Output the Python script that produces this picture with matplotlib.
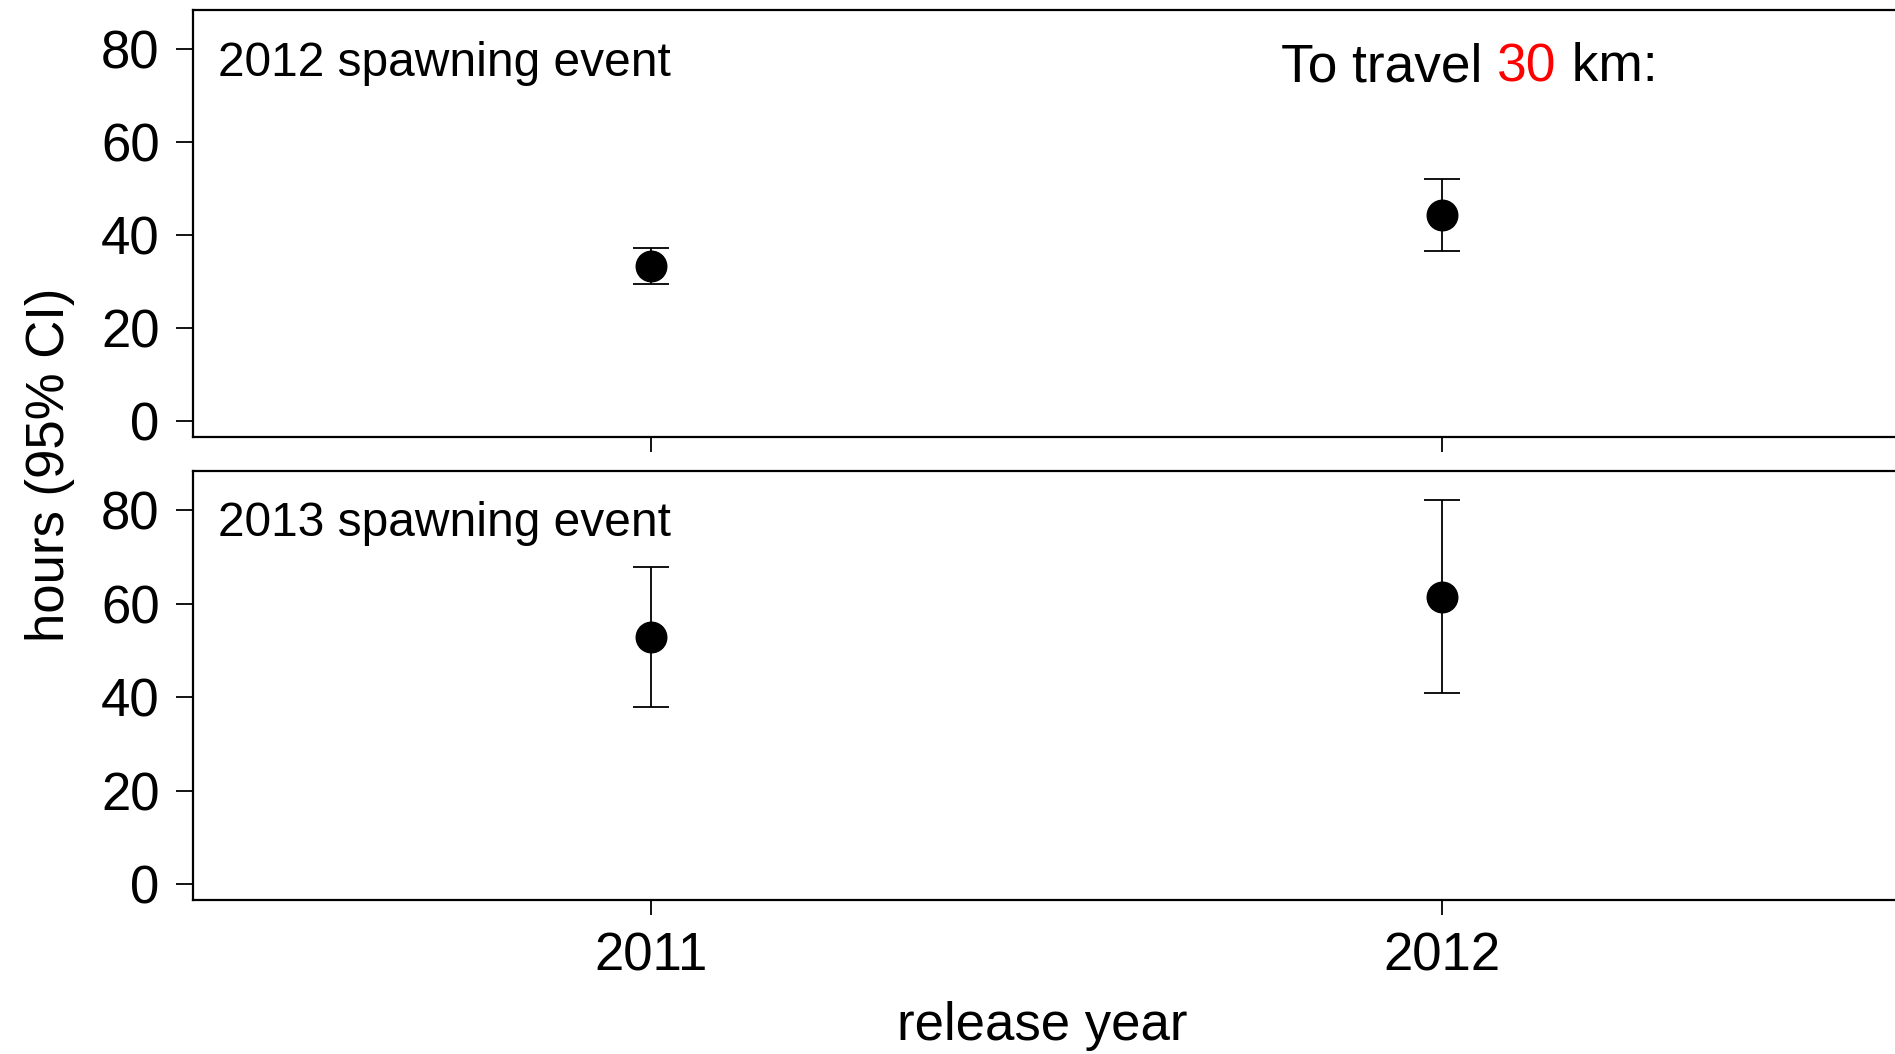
import matplotlib
matplotlib.use("Agg")
import matplotlib.pyplot as plt

plt.rcParams['font.family'] = ['Liberation Sans', 'DejaVu Sans']

release_years = [2011, 2012]
spawn_2012_mean = [33.3, 44.4]
spawn_2012_lo = [29.4, 36.6]
spawn_2012_hi = [37.2, 52.1]
spawn_2013_mean = [52.9, 61.4]
spawn_2013_lo = [37.9, 40.8]
spawn_2013_hi = [67.9, 82.1]
y_ticks = [0, 20, 40, 60, 80]
panel_labels = ["2012 spawning event", "2013 spawning event"]

W, H = 1895, 1054
fig = plt.figure(figsize=(W / 100, H / 100), dpi=100)

def frac_rect(l, t, r, b):
    return [l / W, 1 - b / H, (r - l) / W, (b - t) / H]

ax1 = fig.add_axes(frac_rect(193, 10, 1900, 437))
ax2 = fig.add_axes(frac_rect(193, 471, 1900, 900))

series = [(spawn_2012_mean, spawn_2012_lo, spawn_2012_hi),
          (spawn_2013_mean, spawn_2013_lo, spawn_2013_hi)]
label_y = [64, 524]

for ax, (m, lo, hi), lab, ly in zip([ax1, ax2], series, panel_labels, label_y):
    yerr = [[mi - l for mi, l in zip(m, lo)], [h - mi for mi, h in zip(m, hi)]]
    ax.errorbar(release_years, m, yerr=yerr, fmt='o', color='black',
                markersize=22, capsize=13, elinewidth=1.3, capthick=1.3)
    ax.set_xlim(2010.42, 2012.58)
    ax.set_ylim(-3.4, 88.4)
    ax.set_yticks(y_ticks)
    ax.set_xticks(release_years)
    ax.tick_params(axis='y', length=12, width=1.3, pad=12, labelsize=38)
    ax.tick_params(axis='x', length=11, width=1.3, pad=12, labelsize=38)
    for s in ax.spines.values():
        s.set_linewidth(1.6)
    fig.text(218 / W, 1 - ly / H, lab, fontsize=34.5, ha='left', va='center')

ax1.tick_params(axis='x', labelbottom=False)
ax2.set_xticklabels([str(y) for y in release_years])

# Title-like annotation with red number
ty = 1 - 67 / H
t1 = fig.text(1281 / W, ty, "To travel ", fontsize=38.3, ha='left', va='center')
t2 = fig.text(0, 0, "30", fontsize=38.3, color='red', ha='left', va='center')
t3 = fig.text(0, 0, " km:", fontsize=38.3, ha='left', va='center')
fig.canvas.draw()
r = fig.canvas.get_renderer()
bb = t1.get_window_extent(r)
t2.set_position((bb.x1 / W, ty))
bb2 = t2.get_window_extent(r)
t3.set_position((bb2.x1 / W, ty))

fig.text(50 / W, 1 - 465 / H, "hours (95% CI)", rotation=90, fontsize=38,
         ha='center', va='center')
fig.text(1042 / W, 1 - 1026 / H, "release year", fontsize=38,
         ha='center', va='center')

fig.savefig("out.png", dpi=100)
